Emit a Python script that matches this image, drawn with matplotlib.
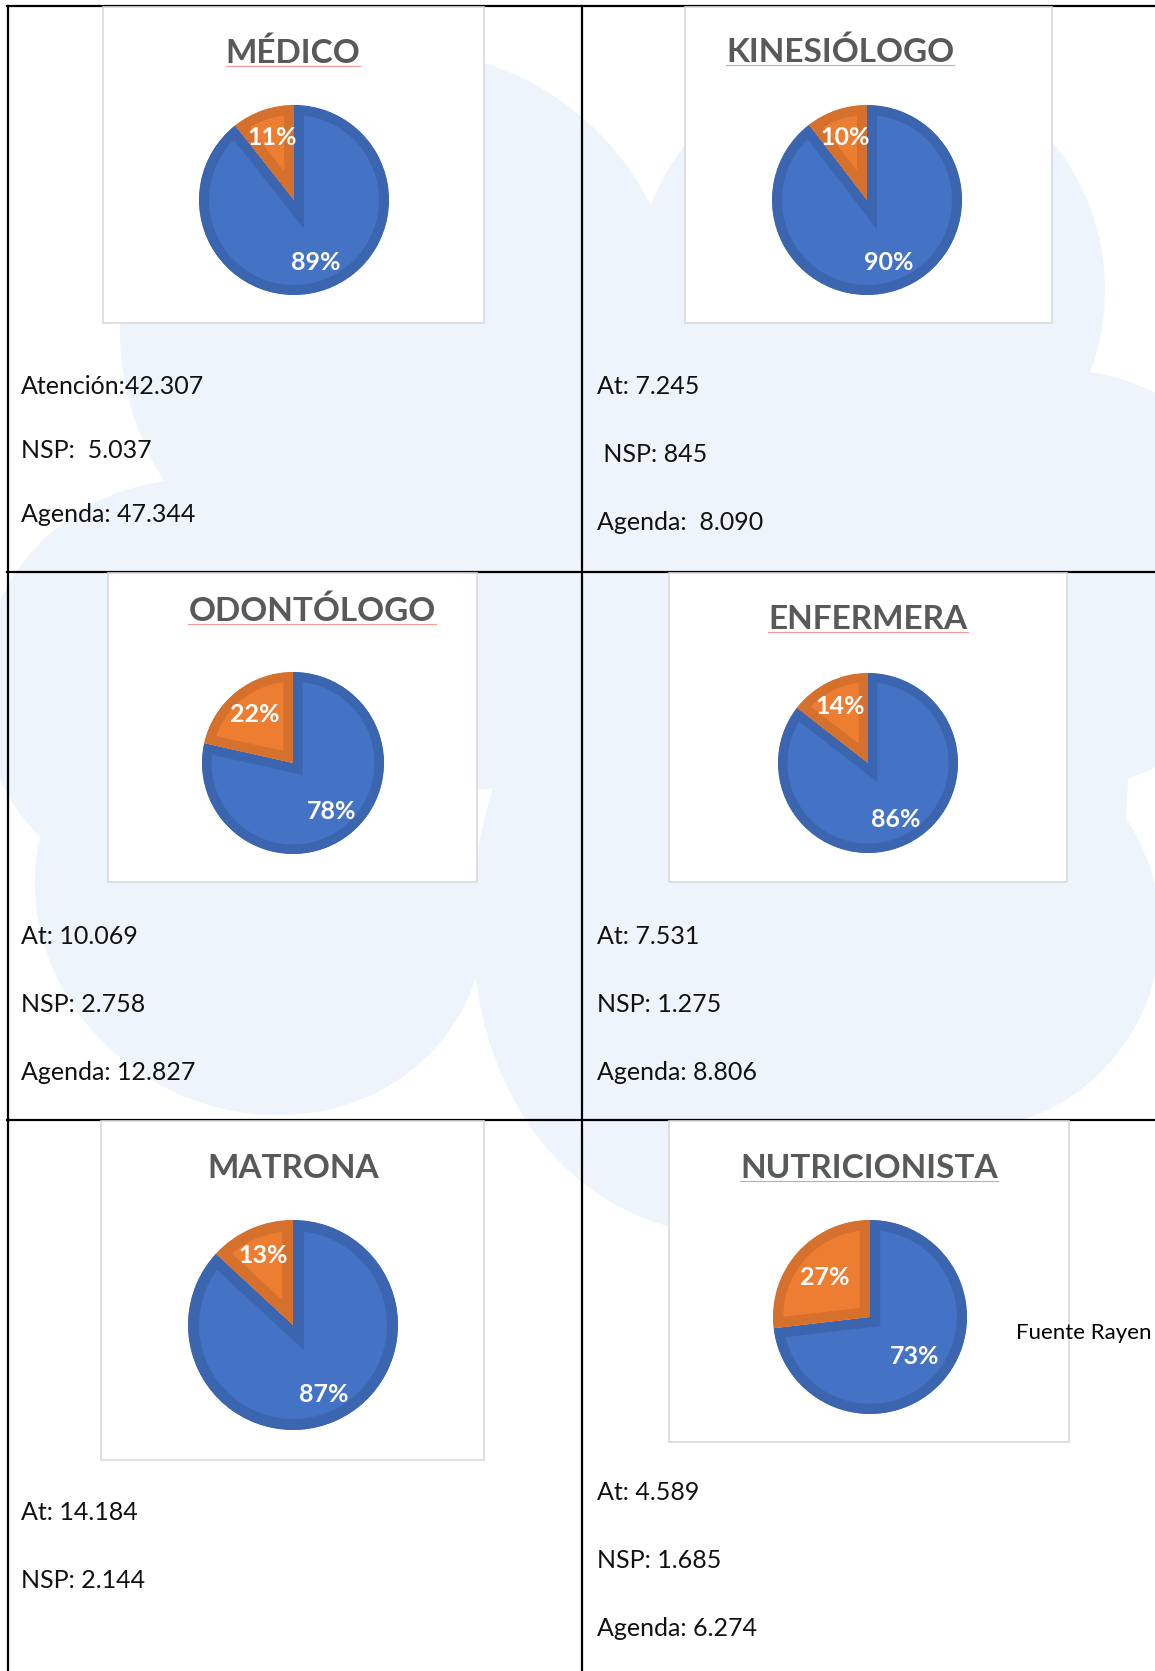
import matplotlib
matplotlib.use('Agg')
import matplotlib.pyplot as plt
from matplotlib.patches import Ellipse, Rectangle

plt.rcParams['font.family'] = ['Lato', 'DejaVu Sans']

# --- data read from the document ---
titles = ['MÉDICO', 'KINESIÓLOGO', 'ODONTÓLOGO', 'ENFERMERA', 'MATRONA', 'NUTRICIONISTA']
atenciones = [42307, 7245, 10069, 7531, 14184, 4589]
nsp = [5037, 845, 2758, 1275, 2144, 1685]
info_lines = [
    ['Atención:42.307', 'NSP:  5.037', 'Agenda: 47.344'],
    ['At: 7.245', ' NSP: 845', 'Agenda:  8.090'],
    ['At: 10.069', 'NSP: 2.758', 'Agenda: 12.827'],
    ['At: 7.531', 'NSP: 1.275', 'Agenda: 8.806'],
    ['At: 14.184', 'NSP: 2.144'],
    ['At: 4.589', 'NSP: 1.685', 'Agenda: 6.274'],
]
spell_flag = [True, True, True, True, False, True]
source_note = 'Fuente Rayen'

# --- layout (pixels of the page) ---
W, H = 1155, 1671
boxes = [(103, 7, 484, 323), (685, 7, 1052, 323), (108, 573, 477, 882),
         (669, 573, 1067, 882), (101, 1121, 484, 1460), (669, 1121, 1069, 1442)]
pies = [(294, 200, 95), (867, 200, 95), (293, 763, 91),
        (868, 763, 90), (293, 1325, 105), (870, 1317, 97)]
pct_dist = [0.70, 0.70, 0.68, 0.70, 0.72, 0.62]
title_pos = [(293, 63), (840, 62), (312, 621), (868, 629), (293, 1178), (869, 1178)]
text_x = [21, 597, 21, 597, 21, 597]
text_y = [[386, 450, 514], [387, 455, 522], [936, 1004, 1072],
          [936, 1004, 1072], [1512, 1580], [1492, 1561, 1628]]

BLUE, BLUE_DK = '#4472C4', '#3C65B0'
ORANGE, ORANGE_DK = '#ED7D31', '#D5702D'
WATER = '#EDF4FB'

fig = plt.figure(figsize=(W / 100, H / 100), dpi=100)
bg = fig.add_axes([0, 0, 1, 1])
bg.set_xlim(0, W)
bg.set_ylim(H, 0)
bg.axis('off')

# faint logo watermark behind the table
for (cx, cy), w, h, ang in [((400, 330), 560, 560, 0), ((870, 290), 470, 470, 0),
                            ((1060, 580), 420, 420, 0), ((960, 930), 400, 400, 0),
                            ((800, 850), 620, 800, 25), ((260, 900), 460, 420, 30),
                            ((190, 690), 420, 420, 0), ((640, 470), 300, 300, 0),
                            ((470, 660), 260, 260, 0)]:
    bg.add_patch(Ellipse((cx, cy), w, h, angle=ang, color=WATER, lw=0, zorder=0))

# table grid
for y in [6, 572, 1120]:
    bg.plot([7, W], [y, y], color='black', lw=1.6, zorder=2)
for x in [7.5, 582]:
    bg.plot([x, x], [6, H], color='black', lw=1.6, zorder=2)

# chart boxes
for x0, y0, x1, y1 in boxes:
    bg.add_patch(Rectangle((x0, y0), x1 - x0, y1 - y0, facecolor='white',
                           edgecolor='#D9D9D9', lw=1.2, zorder=3))

# titles
title_artists = []
for (tx, ty), t in zip(title_pos, titles):
    title_artists.append(bg.text(tx, ty, t, ha='center', va='baseline', fontsize=24,
                                 fontweight='bold', color='#595959', zorder=4))

# text below each chart
for lines, x, ys in zip(info_lines, text_x, text_y):
    for s, y in zip(lines, ys):
        bg.text(x, y, s, ha='left', va='center', fontsize=18, fontweight='normal',
                color='#111111', zorder=4)
bg.text(1016, 1333, source_note, ha='left', va='center', fontsize=16, color='black', zorder=4)

# pies
for i, (cx, cy, r) in enumerate(pies):
    ax = fig.add_axes([(cx - r) / W, 1 - (cy + r) / H, 2 * r / W, 2 * r / H])
    wedges, _, autotexts = ax.pie([atenciones[i], nsp[i]], colors=[BLUE, ORANGE],
                                  startangle=90, counterclock=False, autopct='%1.0f%%',
                                  pctdistance=pct_dist[i],
                                  textprops=dict(color='white', fontsize=18, fontweight='bold'))
    lw = 2 * 0.105 * r * 0.72
    for w, ec in zip(wedges, [BLUE_DK, ORANGE_DK]):
        w.set_edgecolor(ec)
        w.set_linewidth(lw)
        w.set_clip_path(w)
        w.set_clip_on(True)
    ax.set_xlim(-1, 1)
    ax.set_ylim(-1, 1)
    ax.axis('off')

# spell-check underline under titles
fig.canvas.draw()
inv = bg.transData.inverted()
for t, flag, (tx, ty) in zip(title_artists, spell_flag, title_pos):
    if not flag:
        continue
    bb = t.get_window_extent()
    (xa, _), (xb, _) = inv.transform([(bb.x0, bb.y0), (bb.x1, bb.y0)])
    bg.plot([xa, xb], [ty + 3, ty + 3], color='#F08080', lw=0.8, alpha=0.8, zorder=4)

fig.savefig('out.png', dpi=100)
